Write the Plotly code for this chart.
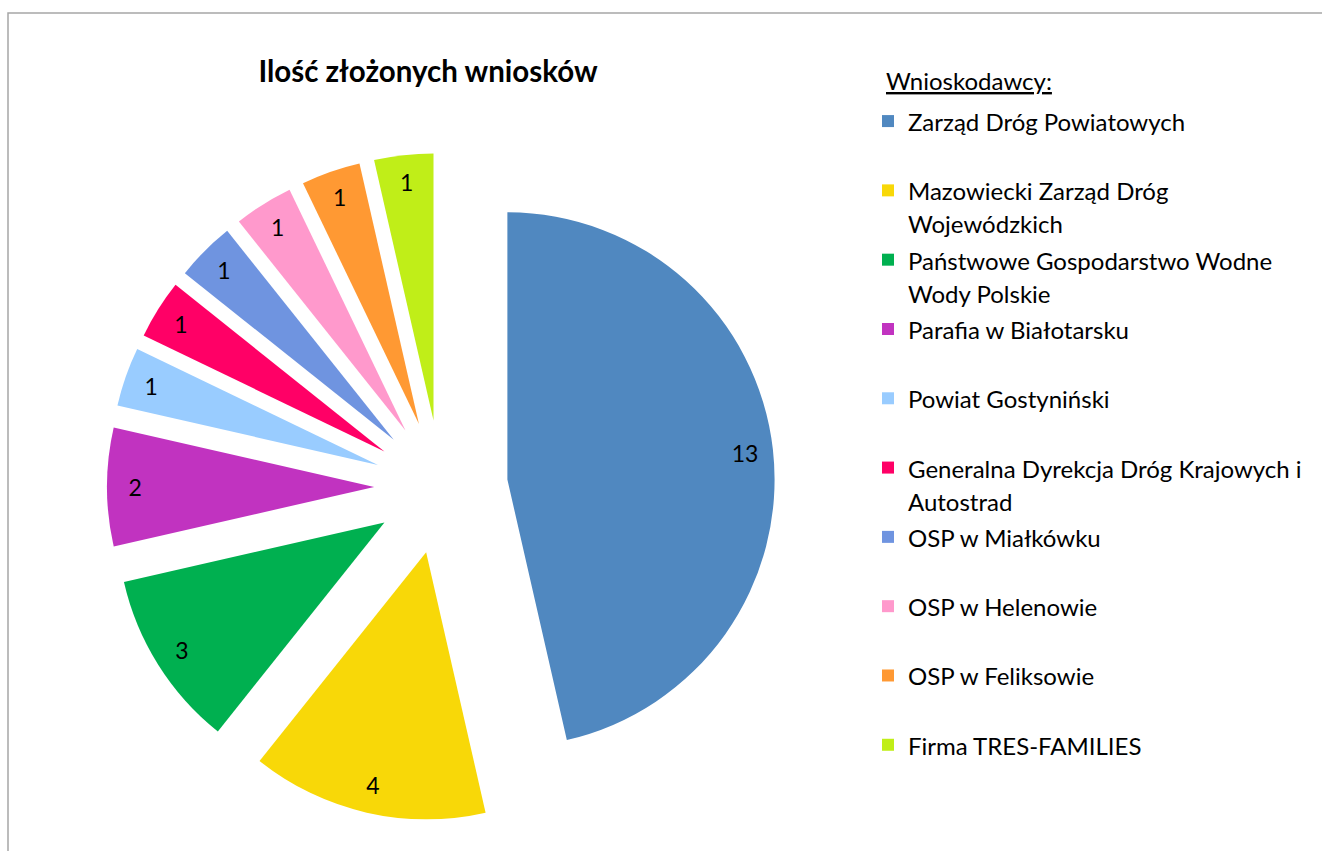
import plotly.graph_objects as go

labels = [
    "Zarząd Dróg Powiatowych",
    "Mazowiecki Zarząd Dróg<br>Wojewódzkich",
    "Państwowe Gospodarstwo Wodne<br>Wody Polskie",
    "Parafia w Białotarsku",
    "Powiat Gostyniński",
    "Generalna Dyrekcja Dróg Krajowych i<br>Autostrad",
    "OSP w Miałkówku",
    "OSP w Helenowie",
    "OSP w Feliksowie",
    "Firma TRES-FAMILIES",
]
values = [13, 4, 3, 2, 1, 1, 1, 1, 1, 1]
colors = ["#5088c0", "#f8d808", "#00b050", "#c133c0", "#99ccff",
          "#ff0066", "#6f94e0", "#ff99cc", "#ff9933", "#c0ee18"]
legend_title = "Wnioskodawcy:"

W, H = 1322, 851
FONT = "Lato"
ITEM_PX = 24


def legend_label(lbl):
    parts = lbl.split("<br>")
    if len(parts) == 1:
        parts.append(" ")
    return "<br>".join(f"<span style='font-size:{ITEM_PX}px'>{p}</span>" for p in parts)


leg_labels = [legend_label(l) for l in labels]
domain = dict(x=[107 / W, 775 / W], y=[30 / H, 698 / H])

# coloured slices (no text)
fig = go.Figure(go.Pie(
    labels=leg_labels,
    values=values,
    textinfo="none",
    marker=dict(colors=colors, line=dict(width=0)),
    sort=False,
    direction="clockwise",
    rotation=0,
    pull=0.25,
    hoverinfo="label+value",
    domain=domain,
))

# transparent ring carrying the value labels near the outer edge
fig.add_trace(go.Pie(
    labels=leg_labels,
    values=values,
    text=[str(v) for v in values],
    textinfo="text",
    textposition="inside",
    insidetextorientation="horizontal",
    textfont=dict(family=FONT, size=23, color="black"),
    marker=dict(colors=["rgba(0,0,0,0)"] * len(values), line=dict(width=0)),
    sort=False,
    direction="clockwise",
    rotation=0,
    pull=0.25,
    hole=0.79,
    hoverinfo="skip",
    showlegend=False,
    domain=domain,
))

fig.update_layout(
    width=W, height=H,
    margin=dict(l=0, r=0, t=0, b=0, autoexpand=False),
    paper_bgcolor="white",
    font=dict(family=FONT, color="black"),
    title=dict(text="<b>Ilość złożonych wniosków</b>", x=428 / W, xanchor="center",
               y=1 - 72 / H, yanchor="middle", xref="paper", yref="paper",
               font=dict(family=FONT, size=29.5, color="black")),
    legend=dict(
        font=dict(family=FONT, size=25.5, color="black"),
        x=868 / W, xanchor="left", y=1 - 98 / H, yanchor="top",
        valign="top", bgcolor="rgba(0,0,0,0)", borderwidth=0,
        itemclick=False, itemdoubleclick=False,
    ),
    annotations=[dict(text=f"<u>{legend_title}</u>", xref="paper", yref="paper",
                      x=884 / W, xanchor="left", y=1 - 80 / H, yanchor="middle",
                      showarrow=False, font=dict(family=FONT, size=24, color="black"))],
    shapes=[dict(type="rect", xref="paper", yref="paper",
                 x0=8 / W, x1=1.2, y0=-0.2, y1=1 - 13 / H,
                 line=dict(color="#a6a6a6", width=1.5), fillcolor="rgba(0,0,0,0)")],
)

fig.write_html("out.html", config={"displayModeBar": False},
               post_script="document.body.style.margin='0px';")
